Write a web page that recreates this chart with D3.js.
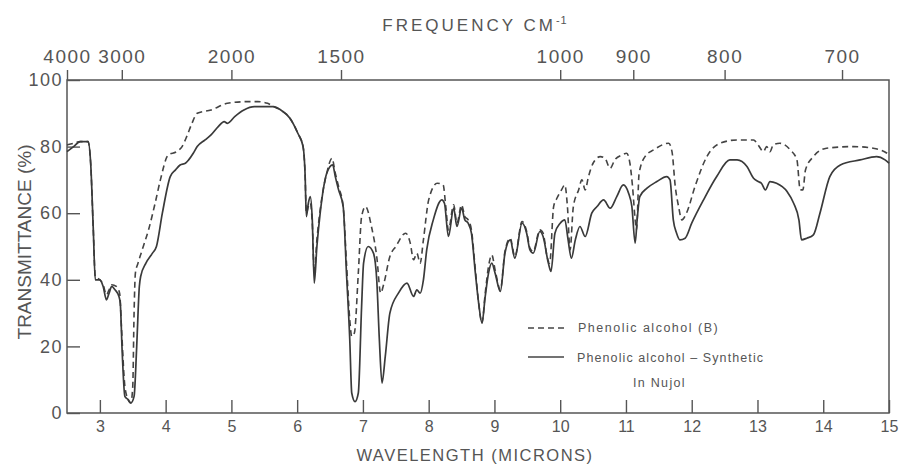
<!DOCTYPE html>
<html>
<head>
<meta charset="utf-8">
<script src="https://cdn.jsdelivr.net/npm/d3@7"></script>
<style>
  body { margin: 0; background: #fff; }
  text { font-family: 'Liberation Sans', Arial, sans-serif; fill: #555; }
</style>
</head>
<body>
<script>
let width = 901,
  height = 467,
  padding = { left: 67, right: 12, top: 80, bottom: 54 }

// solid trace: phenolic alcohol - synthetic (wavelength in microns, transmittance in %)
let synthWave = [2.5, 2.6, 2.7, 2.82, 2.86, 2.9, 2.93, 3.0, 3.05, 3.1, 3.14, 3.18, 3.23, 3.29, 3.31, 3.34, 3.38, 3.43, 3.47, 3.52,
  3.56, 3.6, 3.62, 3.7, 3.8, 3.86, 3.95, 4.07, 4.15, 4.22, 4.3, 4.35, 4.42, 4.48, 4.6, 4.69, 4.8, 4.89, 4.94, 5.05,
  5.19, 5.35, 5.5, 5.64, 5.75, 5.89, 6.01, 6.09, 6.12, 6.14, 6.17, 6.2, 6.23, 6.26, 6.3, 6.35, 6.45, 6.54, 6.58, 6.63,
  6.7, 6.75, 6.8, 6.83, 6.88, 6.93, 6.98, 7.01, 7.08, 7.16, 7.21, 7.25, 7.29, 7.34, 7.41, 7.54, 7.67, 7.77, 7.82, 7.87,
  7.92, 7.97, 8.07, 8.2, 8.24, 8.3, 8.38, 8.43, 8.5, 8.55, 8.6, 8.65, 8.71, 8.76, 8.81, 8.86, 8.91, 8.96, 9.01, 9.09,
  9.16, 9.24, 9.31, 9.42, 9.49, 9.54, 9.59, 9.69, 9.74, 9.82, 9.86, 9.92, 10.0, 10.07, 10.12, 10.17, 10.23, 10.3, 10.38, 10.48,
  10.56, 10.66, 10.76, 10.86, 10.96, 11.04, 11.09, 11.14, 11.17, 11.21, 11.32, 11.47, 11.62, 11.67, 11.72, 11.77, 11.82, 11.9, 12.0, 12.18,
  12.38, 12.58, 12.69, 12.84, 12.94, 13.01, 13.06, 13.12, 13.19, 13.29, 13.45, 13.55, 13.63, 13.67, 13.75, 13.85, 13.95, 14.1, 14.26, 14.56,
  14.81, 14.94, 15.0]
let synthTrans = [78.5, 80, 81.5, 81.5, 75, 55, 40, 40, 38, 34, 36, 38, 37, 35, 33, 18, 5, 4, 3, 5,
  20, 38, 41, 45, 48, 50, 60, 71, 73, 74.5, 75, 76, 78, 80, 82, 83.5, 86, 87.5, 87, 89,
  91, 92, 92, 92, 91, 88.5, 84, 80, 72, 59, 63, 65, 58, 39, 50, 60, 72, 74.5, 71, 67,
  62, 42, 22, 6, 3.4, 6, 32, 45, 50, 48, 40, 22, 9, 17, 30, 36, 39, 35, 37, 36,
  40, 49, 58, 64, 63, 53, 61.5, 56, 61.5, 58, 57, 54, 42, 33, 27, 35, 42, 45, 42, 36.5,
  48, 52, 46.5, 57, 54, 49, 48, 54.5, 53, 45, 42.5, 54, 57, 58, 52, 46.5, 52, 56, 53, 60,
  62, 64, 61.5, 65, 68.5, 66, 62, 51, 58, 65, 67.5, 69.5, 71, 70, 58, 54, 52, 52.5, 57, 64,
  71, 76, 76, 74, 70.5, 69.5, 69, 67, 69.5, 69, 66.5, 63, 58, 52, 52.5, 53.5, 60, 71, 74.5, 76,
  77, 76, 75]

// dashed trace: phenolic alcohol (B)
let phenolWave = [2.5, 2.6, 2.7, 2.82, 2.86, 2.9, 2.93, 3.0, 3.05, 3.1, 3.14, 3.18, 3.25, 3.3, 3.33, 3.38, 3.43, 3.47, 3.5, 3.52,
  3.54, 3.58, 3.66, 3.74, 3.84, 3.92, 4.04, 4.17, 4.25, 4.32, 4.4, 4.48, 4.69, 4.94, 5.24, 5.4, 5.55, 5.64, 5.75, 5.89,
  6.01, 6.09, 6.12, 6.14, 6.17, 6.2, 6.23, 6.26, 6.3, 6.35, 6.45, 6.53, 6.58, 6.63, 6.7, 6.75, 6.8, 6.83, 6.87, 6.93,
  6.98, 7.04, 7.13, 7.21, 7.27, 7.32, 7.41, 7.5, 7.65, 7.72, 7.77, 7.82, 7.87, 7.92, 8.0, 8.13, 8.22, 8.26, 8.3, 8.38,
  8.43, 8.5, 8.55, 8.6, 8.65, 8.71, 8.76, 8.81, 8.86, 8.91, 8.96, 9.01, 9.09, 9.16, 9.24, 9.31, 9.42, 9.49, 9.54, 9.59,
  9.69, 9.74, 9.8, 9.84, 9.9, 9.95, 10.02, 10.07, 10.11, 10.15, 10.2, 10.28, 10.33, 10.38, 10.43, 10.5, 10.61, 10.68, 10.76, 10.83,
  10.94, 11.01, 11.06, 11.1, 11.14, 11.16, 11.2, 11.29, 11.42, 11.65, 11.7, 11.75, 11.8, 11.85, 11.92, 12.05, 12.23, 12.43, 12.69, 12.94,
  13.01, 13.09, 13.14, 13.19, 13.24, 13.34, 13.5, 13.6, 13.65, 13.69, 13.73, 13.85, 14.05, 14.46, 14.76, 14.97, 15.0]
let phenolTrans = [80.5, 81, 81.5, 81.5, 75, 55, 41, 40, 38.5, 35.5, 37, 38.5, 38, 36, 25, 8, 4, 3, 8, 30,
  42, 45, 50, 55, 63, 70, 77.5, 78.5, 80, 83, 87, 90, 91, 93, 93.5, 93.5, 93, 92, 91, 88.5,
  84, 80, 72, 60, 62, 63, 57, 42, 52, 61, 72, 76.5, 72, 68, 62, 45, 28, 23, 24, 42,
  59, 62, 56, 47, 36, 39, 47, 50, 54, 51, 46, 48, 45, 52, 64, 69, 68.5, 62, 55, 62.5,
  57, 62.5, 59, 58, 55, 43, 33, 27, 36, 44, 47.5, 43, 37, 48.5, 52.5, 47, 57.5, 54.5, 49.5, 48.5,
  55, 54, 47, 45, 62, 64.5, 67, 68.5, 62, 49, 62, 67, 70, 67, 71, 75, 77, 76.5, 73.5, 76,
  77.5, 78, 75, 68, 58, 55, 72, 77, 79, 81, 78.5, 68, 62, 58, 60, 68, 77, 81, 82, 82,
  80.5, 78.5, 80, 78.5, 80.5, 81, 79, 76, 67, 67, 73, 77, 79.5, 80, 79.5, 78, 77]

let freqTicks = [4000, 3000, 2000, 1500, 1000, 900, 800, 700]
let waveTicks = [3, 4, 5, 6, 7, 8, 9, 10, 11, 12, 13, 14, 15]
let transTicks = [0, 20, 40, 60, 80, 100]

let svg = d3.select('body').append('svg')
  .attr('width', width)
  .attr('height', height)

let scaleX = d3.scaleLinear()
  .domain([2.5, 15])
  .range([padding.left, width - padding.right])

let scaleY = d3.scaleLinear()
  .domain([0, 100])
  .range([height - padding.bottom, padding.top])

let axisBottom = d3.axisBottom(scaleX).tickValues(waveTicks).tickSize(-13).tickPadding(8)
let axisTop = d3.axisTop(scaleX)
  .tickValues(freqTicks.map(f => 10000 / f))
  .tickFormat(d => Math.round(10000 / d))
  .tickSize(10).tickPadding(7)
let axisLeft = d3.axisLeft(scaleY).tickValues(transTicks).tickSize(-13).tickPadding(4)

let gBottom = svg.append('g')
  .attr('transform', 'translate(0, ' + (height - padding.bottom) + ')')
  .call(axisBottom)
gBottom.selectAll('text').style('font-size', '16px')

let gTop = svg.append('g')
  .attr('transform', 'translate(0, ' + padding.top + ')')
  .call(axisTop)
gTop.selectAll('text').style('font-size', '19px').style('letter-spacing', '1.5px')

let gLeft = svg.append('g')
  .attr('transform', 'translate(' + padding.left + ', 0)')
  .call(axisLeft)
gLeft.selectAll('text').style('font-size', '18px').style('letter-spacing', '1.5px')

svg.selectAll('.domain').remove()
svg.selectAll('.tick line').attr('stroke', '#555').attr('stroke-width', 1.4)
svg.selectAll('.tick text').attr('fill', '#555').style('font-family', "'Liberation Sans', Arial, sans-serif")

// frame around the plot
svg.append('rect')
  .attr('x', padding.left)
  .attr('y', padding.top)
  .attr('width', width - padding.right - padding.left)
  .attr('height', height - padding.bottom - padding.top)
  .attr('fill', 'none')
  .attr('stroke', '#555')
  .attr('stroke-width', 1.5)

let line = d3.line()
  .x(d => scaleX(d[0]))
  .y(d => scaleY(d[1]))
  .curve(d3.curveMonotoneX)

svg.append('path')
  .datum(d3.zip(phenolWave, phenolTrans))
  .attr('d', line)
  .attr('fill', 'none')
  .attr('stroke', '#444')
  .attr('stroke-width', 1.6)
  .attr('stroke-dasharray', '6,4')

svg.append('path')
  .datum(d3.zip(synthWave, synthTrans))
  .attr('d', line)
  .attr('fill', 'none')
  .attr('stroke', '#3a3a3a')
  .attr('stroke-width', 1.7)

// titles
let title = svg.append('text')
  .attr('x', 475)
  .attr('y', 31)
  .attr('text-anchor', 'middle')
  .style('font-size', '17px')
  .style('letter-spacing', '3px')
  .text('FREQUENCY CM')
title.append('tspan')
  .attr('dy', -7)
  .style('font-size', '11px')
  .style('letter-spacing', '1px')
  .text('-1')

svg.append('text')
  .attr('x', 475)
  .attr('y', 461)
  .attr('text-anchor', 'middle')
  .style('font-size', '16.5px')
  .style('letter-spacing', '1.5px')
  .text('WAVELENGTH (MICRONS)')

svg.append('text')
  .attr('transform', 'translate(31, 242) rotate(-90)')
  .attr('text-anchor', 'middle')
  .style('font-size', '19px')
  .text('TRANSMITTANCE (%)')

// legend
let legend = svg.append('g')
legend.append('line')
  .attr('x1', 528).attr('x2', 564).attr('y1', 328).attr('y2', 328)
  .attr('stroke', '#444').attr('stroke-width', 1.4).attr('stroke-dasharray', '6,4')
legend.append('line')
  .attr('x1', 528).attr('x2', 564).attr('y1', 357).attr('y2', 357)
  .attr('stroke', '#444').attr('stroke-width', 1.4)
legend.append('text')
  .attr('x', 578).attr('y', 332)
  .style('font-size', '12.5px').style('letter-spacing', '1.5px')
  .text('Phenolic alcohol (B)')
legend.append('text')
  .attr('x', 577).attr('y', 362)
  .style('font-size', '12.5px').style('letter-spacing', '1.1px')
  .text('Phenolic alcohol – Synthetic')
legend.append('text')
  .attr('x', 633).attr('y', 387)
  .style('font-size', '12.5px').style('letter-spacing', '1.3px')
  .text('In Nujol')
</script>
</body>
</html>
